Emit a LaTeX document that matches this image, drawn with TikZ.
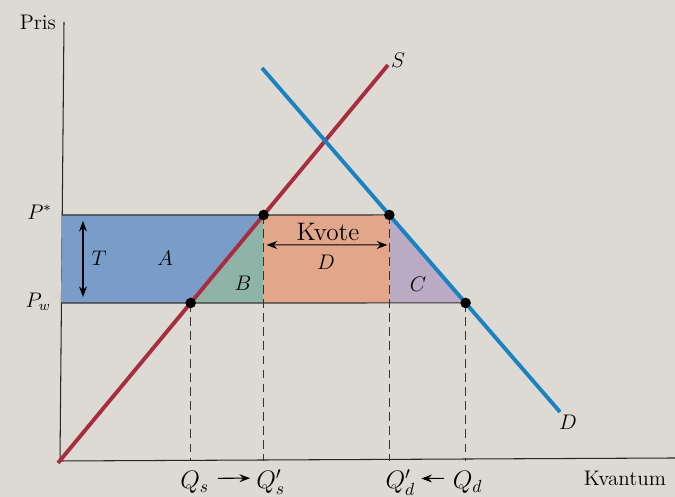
\documentclass[tikz,border=0pt]{standalone}
\usepackage{amsmath,amssymb}
\usepackage{xcolor}
\usepackage{tikz}
\usetikzlibrary{arrows.meta,positioning,calc}
\definecolor{paper}{RGB}{221,218,211}
\definecolor{supred}{RGB}{168,45,62}
\definecolor{demblue}{RGB}{25,130,195}
\definecolor{areaA}{RGB}{122,156,201}
\definecolor{areaB}{RGB}{142,180,168}
\definecolor{areaD}{RGB}{226,166,138}
\definecolor{areaC}{RGB}{186,170,196}

\begin{document}
\begin{tikzpicture}[
  axis/.style={draw=black!85, line width=0.6pt},
  curve/.style={line width=2.2pt},
  level/.style={draw=black!80, line width=0.6pt},
  guide/.style={draw=black!80, dashed, dash pattern=on 5pt off 3pt, line width=0.5pt},
  dot/.style={circle, fill=black, inner sep=0pt, minimum size=6pt},
  lab/.style={font=\large},
  qlab/.style={font=\Large, anchor=base}
]
\fill[paper] (0,0) rectangle (13.5,9.94);
\useasboundingbox (0,0) rectangle (13.5,9.94);

% axes
\coordinate (o) at (1.2,0.72);
\coordinate (ytop) at (1.28,9.5);
\coordinate (xend) at (13.5,0.78);
\draw[axis] (ytop) -- (o) -- (xend);
\node[lab, anchor=east] (pris) at (1.24,9.5) {Pris};
\node[lab] (kvantum) at (12.5,0.38) {Kvantum};

% curves and price levels
\coordinate (s0) at (1.16,0.68);
\coordinate (s1) at (7.76,8.64);
\coordinate (d0) at (5.24,8.58);
\coordinate (d1) at (11.2,1.7);
\coordinate (ph0) at (1.24,5.64);
\coordinate (pw0) at (1.22,3.88);
\coordinate (sh) at (intersection of s0--s1 and ph0--{13,5.64});
\coordinate (sw) at (intersection of s0--s1 and pw0--{13,3.88});
\coordinate (dh) at (intersection of d0--d1 and ph0--{13,5.64});
\coordinate (dw) at (intersection of d0--d1 and pw0--{13,3.88});
\coordinate (shb) at (sh |- sw);
\coordinate (dhb) at (dh |- dw);

% areas
\fill[areaA] (ph0) -- (sh) -- (sw) -- (pw0) -- cycle;
\fill[areaB] (sh) -- (shb) -- (sw) -- cycle;
\fill[areaD] (sh) -- (dh) -- (dhb) -- (shb) -- cycle;
\fill[areaC] (dh) -- (dw) -- (dhb) -- cycle;

\draw[level] (ph0) -- (dh);
\draw[level] (pw0) -- (dw);

\foreach \p/\n in {sw/qs, sh/qsp, dh/qdp, dw/qd} {
  \coordinate (\n0) at (\p |- o);
  \draw[guide] (\p) -- (\n0);
}

\draw[curve, supred] (s0) -- (s1);
\draw[curve, demblue] (d0) -- (d1);
\node[lab] (slab) at (7.96,8.74) {$S$};
\node[lab] (dlab) at (11.36,1.5) {$D$};

\foreach \p in {sh,sw,dh,dw}
  \node[dot] at (\p) {};

\node[lab, anchor=east] (pstar) at ($(ph0)+(-0.08,0.06)$) {$P^{*}$};
\node[lab, anchor=east] (pworld) at ($(pw0)+(-0.08,0.02)$) {$P_w$};

% area labels
\coordinate (tt) at (1.66,5.52);
\coordinate (tb) at (1.66,4.0);
\draw[{Stealth[length=6pt]}-{Stealth[length=6pt]}, line width=0.6pt] (tt) -- (tb);
\node[lab] (tl) at (1.98,4.78) {$T$};
\node[lab] (al) at (3.3,4.78) {$A$};
\node[lab] (bl) at (4.86,4.28) {$B$};
\node[lab] (cl) at (8.36,4.26) {$C$};
\node[lab] (dl) at (6.52,4.7) {$D$};
\node[font=\Large] (kvote) at (6.56,5.3) {Kvote};
\coordinate (kl) at ($(sh)+(0.06,-0.6)$);
\coordinate (kr) at ($(dh)+(-0.04,-0.6)$);
\draw[{Stealth[length=6pt]}-{Stealth[length=6pt]}, line width=0.6pt] (kl) -- (kr);

% quantities
\node[qlab] (qsl) at ($(qs0)+(0.08,-0.55)$) {$Q_s$};
\node[qlab] (qspl) at ($(qsp0)+(0.14,-0.55)$) {$Q_s'$};
\node[qlab] (qdpl) at ($(qdp0)+(0.22,-0.55)$) {$Q_d'$};
\node[qlab] (qdl) at ($(qd0)+(0.04,-0.55)$) {$Q_d$};
\draw[-{Stealth[length=6pt]}, line width=0.6pt] ($(qsl.east)+(0.05,0.08)$) -- ($(qspl.west)+(0.0,0.08)$);
\draw[-{Stealth[length=6pt]}, line width=0.6pt] ($(qdl.west)+(-0.05,0.08)$) -- ($(qdpl.east)+(0.0,0.08)$);
\end{tikzpicture}
\end{document}
